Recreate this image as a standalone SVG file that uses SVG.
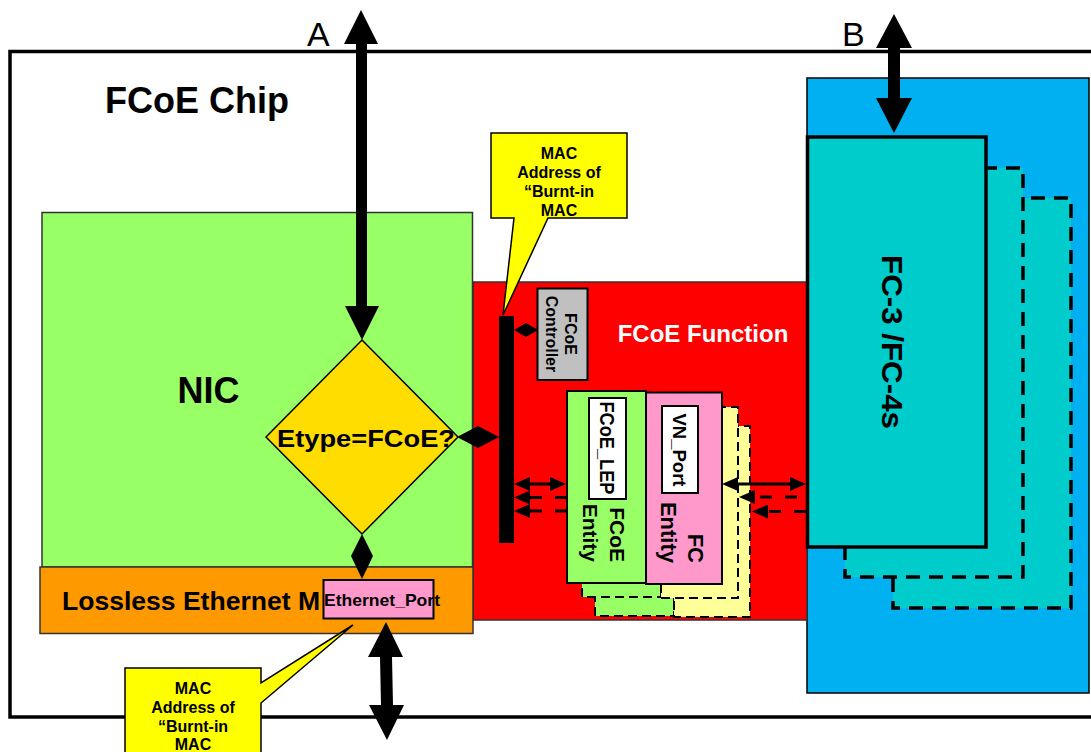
<svg xmlns="http://www.w3.org/2000/svg" width="1091" height="752" viewBox="0 0 1091 752">
<style>
text{font-family:"Liberation Sans",Arial,sans-serif;fill:#000}
.b{font-weight:bold}
.thin{stroke:#333;stroke-width:1.5}
.box2{stroke:#000;stroke-width:2}
.dash{stroke:#000;stroke-width:2;stroke-dasharray:9 5}
.dash3{stroke:#000;stroke-width:3.5;stroke-dasharray:14 9}
.ln{stroke:#000;stroke-width:3;fill:none}
.dl{stroke:#000;stroke-width:3;fill:none;stroke-dasharray:12 13}
.callout{fill:#FFFF00;stroke:#000;stroke-width:1.5}
.ct{font-size:16px;font-weight:bold;text-anchor:middle}
</style>
<defs>
<marker id="ah" markerUnits="userSpaceOnUse" markerWidth="16" markerHeight="14" refX="12" refY="7" orient="auto-start-reverse" viewBox="0 0 16 14"><path d="M0,0 L16,7 L0,14 Z" fill="#000"/></marker>
</defs>
<rect width="1091" height="752" fill="#fff"/>

<g id="fcoe-chip">
<rect x="10" y="51.5" width="1100" height="665.5" fill="#fff" stroke="#000" stroke-width="3.5"/>
<text x="105" y="113" class="b" font-size="36">FCoE Chip</text>
</g>

<g id="fc3-fc4s">
<rect x="807" y="78" width="282" height="615" fill="#00B0F0" stroke="#000" stroke-width="1.5"/>
<rect x="893" y="198" width="178" height="410" fill="#00CCCC" class="dash3"/>
<rect x="845" y="168" width="178" height="409" fill="#00CCCC" class="dash3"/>
</g>

<g id="fcoe-function">
<rect x="473" y="282" width="334" height="338" fill="#FF0000" class="thin"/>
<text x="703" y="342" class="b" font-size="24" style="fill:#fff" text-anchor="middle">FCoE Function</text>
</g>

<g id="fc3-main">
<rect x="807.5" y="137" width="178.5" height="410" fill="#00CCCC" stroke="#000" stroke-width="3.5"/>
<text transform="translate(882,342) rotate(90)" class="b" font-size="30" text-anchor="middle" textLength="174" lengthAdjust="spacingAndGlyphs">FC-3 /FC-4s</text>
</g>

<g id="nic">
<rect x="42" y="212.5" width="430.5" height="354.5" fill="#99FF66" class="thin"/>
<text x="208.5" y="403" class="b" font-size="36" text-anchor="middle">NIC</text>
</g>

<g id="lossless-ethernet-mac">
<rect x="40" y="567" width="433" height="66.5" fill="#FF9900" class="thin"/>
<text x="62" y="610" class="b" font-size="26" textLength="258" lengthAdjust="spacingAndGlyphs">Lossless Ethernet M</text>
</g>

<g id="ethernet-port">
<rect x="323.5" y="580" width="110" height="38.5" fill="#FF99CC" class="box2"/>
<text x="324" y="606" class="b" font-size="17" textLength="116" lengthAdjust="spacingAndGlyphs">Ethernet_Port</text>
</g>

<g id="etype-decision">
<polygon points="362,340 458,437 362,534 266,437" fill="#FFDD00" stroke="#000" stroke-width="1.5"/>
<text x="366" y="447" class="b" font-size="24" text-anchor="middle" textLength="178" lengthAdjust="spacingAndGlyphs">Etype=FCoE?</text>
</g>

<g id="fcoe-controller">
<rect x="537.5" y="288.5" width="50" height="91.5" fill="#C0C0C0" class="box2"/>
<text transform="translate(565,334) rotate(90)" class="b" font-size="16" text-anchor="middle"><tspan x="0" y="0">FCoE</tspan><tspan x="0" y="19.5">Controller</tspan></text>
</g>

<g id="entity-copies">
<rect x="595" y="424" width="79" height="192" fill="#99FF66" class="dash"/>
<rect x="674" y="426" width="76" height="191" fill="#FFFF99" class="dash"/>
<rect x="582" y="405" width="79" height="192" fill="#99FF66" class="dash"/>
<rect x="661" y="407" width="77" height="191" fill="#FFFF99" class="dash"/>
</g>

<g id="fcoe-entity">
<rect x="567" y="391" width="79" height="192" fill="#99FF66" class="box2"/>
<rect x="589" y="398" width="37" height="101" fill="#fff" class="box2"/>
<text transform="translate(600,448) rotate(90)" class="b" font-size="20" text-anchor="middle" textLength="93" lengthAdjust="spacingAndGlyphs">FCoE_LEP</text>
<text transform="translate(610,562) rotate(90)" class="b" font-size="21" text-anchor="end"><tspan x="0" y="0">FCoE</tspan><tspan x="0" y="27">Entity</tspan></text>
</g>

<g id="fc-entity">
<rect x="646" y="392.5" width="76" height="191.5" fill="#FF99CC" class="box2"/>
<rect x="662" y="406" width="36" height="87" fill="#fff" class="box2"/>
<text transform="translate(673,450) rotate(90)" class="b" font-size="19" text-anchor="middle" textLength="73" lengthAdjust="spacingAndGlyphs">VN_Port</text>
<text transform="translate(688,563) rotate(90)" class="b" font-size="22" text-anchor="end"><tspan x="0" y="0">FC</tspan><tspan x="0" y="27">Entity</tspan></text>
</g>

<g id="callout-top">
<path d="M491,133 H627 V218 H548 L503,315 L514,218 H491 Z" class="callout"/>
<text class="ct"><tspan x="559" y="159">MAC</tspan><tspan x="559" y="178">Address of</tspan><tspan x="559" y="197">“Burnt-in</tspan><tspan x="559" y="216">MAC</tspan></text>
</g>

<g id="callout-bottom">
<path d="M125,668 H261 V683 L353,625 L261,703 V760 H125 Z" class="callout"/>
<text class="ct"><tspan x="193" y="694">MAC</tspan><tspan x="193" y="713">Address of</tspan><tspan x="193" y="732">“Burnt-in</tspan><tspan x="193" y="750">MAC</tspan></text>
</g>

<g id="bus-bar">
<rect x="499" y="316" width="15" height="227" fill="#000"/>
</g>

<g id="connectors">
<text x="307" y="46" font-size="34">A</text>
<text x="842" y="46" font-size="34">B</text>
<polygon points="361,10 378,44 367,44 367,306 379,306 362,340 345,306 356,306 356,44 344,44" fill="#000"/>
<polygon points="894,14 912,48 900,48 900,98 912,98 894,133 876,98 888,98 888,48 876,48" fill="#000"/>
<polygon points="386,622 403,657 392,657 393,705 404,705 387,740 369,705 381,705 380,657 368,657" fill="#000"/>
<polygon points="457,437 478,426 499,437 478,448" fill="#000"/>
<polygon points="362,534 373,556 362,579 351,556" fill="#000"/>
<polygon points="514,330 526,323 538,330 526,337" fill="#000"/>
<path d="M518,484 H562" class="ln" marker-start="url(#ah)" marker-end="url(#ah)"/>
<path d="M567,497.5 H518" class="dl" marker-end="url(#ah)"/>
<path d="M567,511 H518" class="dl" marker-end="url(#ah)"/>
<path d="M726,484 H802" class="ln" marker-start="url(#ah)" marker-end="url(#ah)"/>
<path d="M797,497 H743" class="dl" marker-end="url(#ah)"/>
<path d="M806,511.5 H756" class="dl" marker-end="url(#ah)"/>
</g>
</svg>
